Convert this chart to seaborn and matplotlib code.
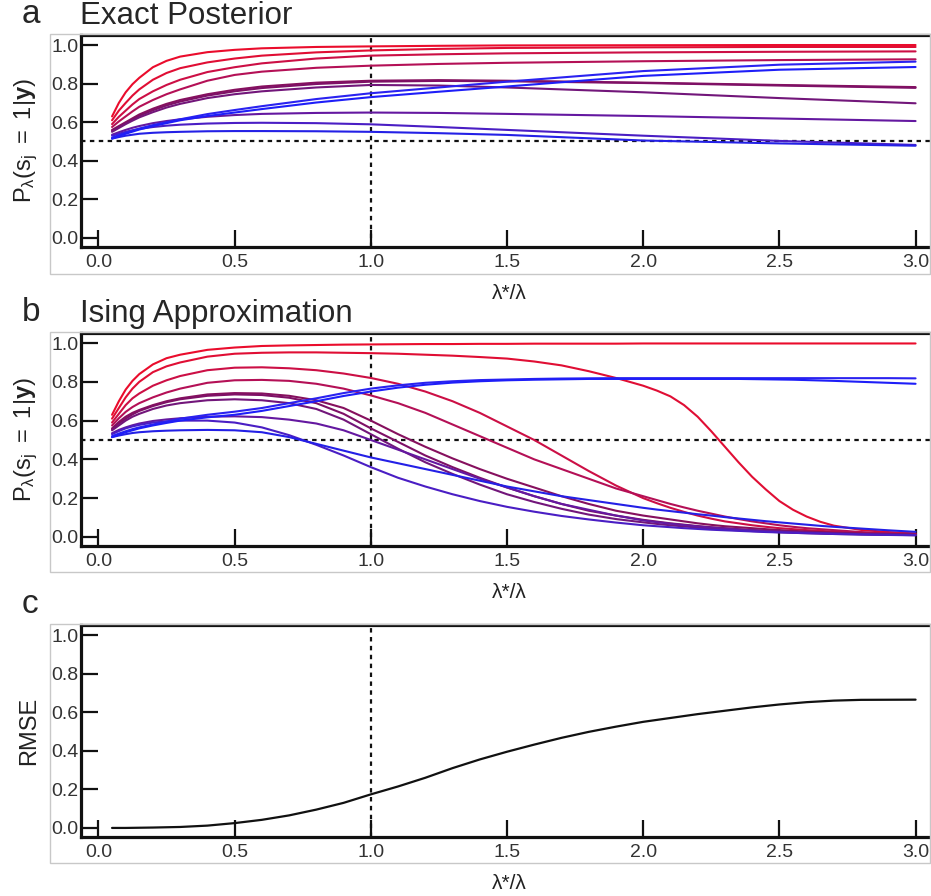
import numpy as np
import pandas as pd
import matplotlib
matplotlib.use("Agg")
import matplotlib.pyplot as plt
from matplotlib.patches import Rectangle
from matplotlib.ticker import FormatStrFormatter
import seaborn as sns

# ---------------------------------------------------------------- data
# x axis: lambda*/lambda
x_exact = [0.05, 0.075, 0.1, 0.125, 0.15, 0.2, 0.25, 0.3, 0.4, 0.5, 0.6, 0.8,
           1.0, 1.25, 1.5, 2.0, 2.5, 3.0]
x_ising = [0.05, 0.075, 0.1, 0.125, 0.15, 0.2, 0.25, 0.3, 0.4,
           0.5, 0.6, 0.7, 0.8, 0.9, 1.0, 1.1, 1.2, 1.3, 1.4, 1.5, 1.6, 1.7, 1.8, 1.9,
           2.0, 2.05, 2.1, 2.15, 2.2, 2.25, 2.3, 2.35, 2.4, 2.45, 2.5, 2.55, 2.6, 2.65,
           2.7, 2.8, 2.9, 3.0]
x_rmse = [0.05, 0.1, 0.2, 0.3, 0.4, 0.5, 0.6, 0.7, 0.8, 0.9, 1.0, 1.1, 1.2, 1.3,
          1.4, 1.5, 1.6, 1.7, 1.8, 1.9, 2.0, 2.2, 2.4, 2.5, 2.6, 2.7, 2.8, 3.0]

sites = ["s01", "s02", "s03", "s04", "s05", "s06",
         "s07", "s08", "s09", "s10", "s11", "s12"]

# marginal posterior P(s_j = 1 | y), exact
exact_curves = [
    [0.63, 0.70, 0.755, 0.797, 0.83, 0.885, 0.918, 0.94, 0.963, 0.975, 0.983, 0.99,
     0.993, 0.996, 0.998, 0.999, 1.0, 1.0],
    [0.61, 0.66, 0.70, 0.738, 0.77, 0.82, 0.855, 0.88, 0.91, 0.93, 0.945, 0.962,
     0.972, 0.98, 0.985, 0.988, 0.99, 0.99],
    [0.59, 0.628, 0.66, 0.692, 0.72, 0.76, 0.793, 0.82, 0.86, 0.885, 0.905, 0.93,
     0.945, 0.952, 0.957, 0.962, 0.965, 0.967],
    [0.575, 0.604, 0.63, 0.656, 0.68, 0.715, 0.745, 0.77, 0.815, 0.845, 0.862, 0.882,
     0.893, 0.902, 0.908, 0.916, 0.922, 0.926],
    [0.56, 0.58, 0.60, 0.62, 0.64, 0.67, 0.695, 0.715, 0.745, 0.768, 0.785, 0.805,
     0.815, 0.818, 0.815, 0.805, 0.793, 0.782],
    [0.555, 0.575, 0.595, 0.614, 0.633, 0.662, 0.687, 0.707, 0.738, 0.76, 0.777, 0.798,
     0.81, 0.814, 0.812, 0.803, 0.79, 0.778],
    [0.55, 0.57, 0.59, 0.608, 0.625, 0.652, 0.676, 0.695, 0.725, 0.745, 0.76, 0.78,
     0.793, 0.79, 0.78, 0.755, 0.725, 0.698],
    [0.535, 0.548, 0.56, 0.571, 0.58, 0.595, 0.606, 0.615, 0.628, 0.637, 0.643, 0.648,
     0.65, 0.648, 0.643, 0.632, 0.619, 0.606],
    [0.53, 0.54, 0.55, 0.558, 0.565, 0.575, 0.582, 0.587, 0.593, 0.596, 0.597, 0.595,
     0.589, 0.575, 0.56, 0.53, 0.503, 0.482],
    [0.515, 0.523, 0.53, 0.535, 0.54, 0.545, 0.548, 0.55, 0.553, 0.554, 0.554, 0.553,
     0.55, 0.543, 0.534, 0.505, 0.49, 0.478],
    [0.52, 0.533, 0.545, 0.556, 0.567, 0.585, 0.60, 0.615, 0.642, 0.663, 0.683, 0.72,
     0.75, 0.78, 0.81, 0.865, 0.898, 0.914],
    [0.515, 0.528, 0.54, 0.551, 0.562, 0.58, 0.595, 0.61, 0.632, 0.65, 0.668, 0.702,
     0.73, 0.758, 0.785, 0.84, 0.872, 0.886],
]

# marginal posterior P(s_j = 1 | y), Ising approximation
ising_curves = [
    [0.63, 0.70, 0.76, 0.805, 0.84, 0.89, 0.922, 0.94, 0.965,
     0.977, 0.985, 0.988, 0.99, 0.992, 0.993, 0.994, 0.995, 0.995, 0.996, 0.996, 0.997,
     0.997, 0.997, 0.997,
     0.998, 0.998, 0.998, 0.998, 0.998, 0.998, 0.998, 0.998, 0.998, 0.998, 0.998, 0.998,
     0.998, 0.998, 0.998, 0.998, 0.998, 0.998],
    [0.61, 0.665, 0.72, 0.765, 0.80, 0.85, 0.88, 0.90, 0.93,
     0.945, 0.95, 0.952, 0.952, 0.95, 0.948, 0.945, 0.94, 0.935, 0.928, 0.92, 0.905,
     0.885, 0.855, 0.82,
     0.78, 0.755, 0.725, 0.68, 0.62, 0.545, 0.465, 0.385, 0.31, 0.245, 0.185, 0.14,
     0.105, 0.078, 0.058, 0.036, 0.025, 0.018],
    [0.59, 0.635, 0.68, 0.715, 0.74, 0.78, 0.808, 0.83, 0.86,
     0.873, 0.875, 0.87, 0.86, 0.843, 0.82, 0.79, 0.75, 0.70, 0.64, 0.57, 0.50,
     0.42, 0.34, 0.265,
     0.20, 0.174, 0.15, 0.129, 0.11, 0.094, 0.08, 0.07, 0.06, 0.052, 0.045, 0.04,
     0.035, 0.031, 0.027, 0.02, 0.016, 0.012],
    [0.575, 0.612, 0.645, 0.67, 0.69, 0.72, 0.745, 0.765, 0.795,
     0.808, 0.81, 0.805, 0.79, 0.765, 0.73, 0.69, 0.64, 0.58, 0.52, 0.46, 0.40,
     0.35, 0.30, 0.25,
     0.21, 0.19, 0.17, 0.152, 0.135, 0.12, 0.105, 0.092, 0.08, 0.07, 0.06, 0.052,
     0.045, 0.04, 0.035, 0.025, 0.019, 0.015],
    [0.56, 0.593, 0.62, 0.64, 0.655, 0.68, 0.70, 0.715, 0.735,
     0.742, 0.74, 0.728, 0.705, 0.665, 0.60, 0.53, 0.465, 0.405, 0.35, 0.30, 0.255,
     0.21, 0.17, 0.135,
     0.11, 0.10, 0.09, 0.08, 0.07, 0.062, 0.055, 0.05, 0.045, 0.04, 0.035, 0.031,
     0.028, 0.025, 0.022, 0.018, 0.015, 0.012],
    [0.555, 0.585, 0.61, 0.632, 0.65, 0.675, 0.695, 0.71, 0.728,
     0.735, 0.732, 0.718, 0.69, 0.635, 0.56, 0.49, 0.42, 0.36, 0.305, 0.255, 0.21,
     0.17, 0.135, 0.11,
     0.088, 0.079, 0.07, 0.063, 0.056, 0.05, 0.045, 0.04, 0.036, 0.032, 0.029, 0.026,
     0.023, 0.02, 0.018, 0.015, 0.012, 0.01],
    [0.55, 0.575, 0.60, 0.62, 0.635, 0.66, 0.678, 0.69, 0.705,
     0.71, 0.705, 0.69, 0.66, 0.605, 0.53, 0.455, 0.385, 0.325, 0.27, 0.22, 0.18,
     0.145, 0.115, 0.092,
     0.075, 0.067, 0.06, 0.054, 0.048, 0.043, 0.038, 0.034, 0.03, 0.027, 0.024, 0.021,
     0.019, 0.017, 0.015, 0.013, 0.011, 0.009],
    [0.535, 0.552, 0.565, 0.576, 0.585, 0.598, 0.606, 0.612, 0.62,
     0.622, 0.618, 0.605, 0.585, 0.55, 0.50, 0.45, 0.40, 0.35, 0.30, 0.255, 0.21,
     0.17, 0.14, 0.11,
     0.085, 0.076, 0.068, 0.061, 0.054, 0.048, 0.043, 0.038, 0.034, 0.03, 0.027, 0.024,
     0.022, 0.02, 0.018, 0.014, 0.012, 0.01],
    [0.53, 0.546, 0.56, 0.57, 0.578, 0.59, 0.596, 0.60, 0.60,
     0.59, 0.565, 0.525, 0.475, 0.42, 0.36, 0.305, 0.26, 0.22, 0.185, 0.155, 0.13,
     0.108, 0.09, 0.074,
     0.06, 0.055, 0.05, 0.045, 0.041, 0.037, 0.034, 0.031, 0.028, 0.025, 0.023, 0.021,
     0.019, 0.017, 0.015, 0.012, 0.01, 0.008],
    [0.515, 0.523, 0.53, 0.536, 0.54, 0.545, 0.548, 0.55, 0.552,
     0.55, 0.54, 0.515, 0.48, 0.445, 0.41, 0.38, 0.35, 0.32, 0.29, 0.26, 0.235,
     0.21, 0.19, 0.17,
     0.15, 0.141, 0.133, 0.125, 0.117, 0.11, 0.102, 0.095, 0.088, 0.081, 0.075, 0.069,
     0.063, 0.057, 0.052, 0.043, 0.034, 0.026],
    [0.52, 0.533, 0.545, 0.556, 0.565, 0.58, 0.595, 0.61, 0.63,
     0.646, 0.665, 0.69, 0.715, 0.742, 0.765, 0.782, 0.795, 0.803, 0.809, 0.812, 0.815,
     0.817, 0.818, 0.819,
     0.819, 0.819, 0.819, 0.819, 0.819, 0.819, 0.819, 0.819, 0.819, 0.819, 0.819, 0.819,
     0.819, 0.819, 0.819, 0.819, 0.819, 0.818],
    [0.515, 0.528, 0.54, 0.55, 0.56, 0.575, 0.588, 0.60, 0.617,
     0.63, 0.65, 0.675, 0.70, 0.727, 0.75, 0.77, 0.785, 0.796, 0.803, 0.808, 0.811,
     0.813, 0.815, 0.815,
     0.815, 0.815, 0.815, 0.815, 0.815, 0.815, 0.815, 0.815, 0.814, 0.813, 0.812, 0.811,
     0.809, 0.807, 0.805, 0.80, 0.795, 0.79],
]

# root-mean-square error between the two posteriors
rmse = [0.0, 0.0, 0.002, 0.005, 0.012, 0.025, 0.042, 0.065, 0.095, 0.13, 0.174, 0.215, 0.26,
        0.31, 0.355, 0.395, 0.432, 0.467, 0.498, 0.525, 0.55, 0.59, 0.625, 0.64, 0.652,
        0.66, 0.664, 0.665]

x_ticks = [0.0, 0.5, 1.0, 1.5, 2.0, 2.5, 3.0]
y_ticks = [0.0, 0.2, 0.4, 0.6, 0.8, 1.0]

# ---------------------------------------------------------------- style
site_colors = ["#ea0c2c", "#e00e34", "#cc0f45", "#b41056", "#86105e", "#7e1066",
               "#72167a", "#6418a0", "#4a1ec4", "#2420e6", "#2a22f0", "#1e1ef8"]
palette = dict(zip(sites, site_colors))

sns.set_theme(style="white")
plt.rcParams["font.family"] = ["Liberation Sans", "DejaVu Sans"]
plt.rcParams["mathtext.fontset"] = "custom"
plt.rcParams["mathtext.rm"] = "Liberation Sans"
plt.rcParams["mathtext.it"] = "Liberation Sans"
plt.rcParams["mathtext.bf"] = "Liberation Sans:bold"
plt.rcParams["mathtext.default"] = "regular"


def long_table(xs, curves):
    rows = []
    for name, vals in zip(sites, curves):
        assert len(vals) == len(xs), name
        for xv, yv in zip(xs, vals):
            rows.append((name, xv, yv))
    return pd.DataFrame(rows, columns=["site", "ratio", "p"])


df_exact = long_table(x_exact, exact_curves)
df_ising = long_table(x_ising, ising_curves)
df_rmse = pd.DataFrame({"ratio": x_rmse, "rmse": rmse})

W, H = 931, 896
fig = plt.figure(figsize=(W / 100, H / 100), dpi=100)
fig.patch.set_facecolor("white")


def fx(px):
    return px / W


def fy(py):
    return 1 - py / H


# panel frames (axes rectangle + tick labels), in pixel rows
panels = [
    dict(top=35, bottom=247, box=(34, 274), letter="a", title="Exact Posterior", base=23),
    dict(top=333, bottom=546, box=(332, 572), letter="b", title="Ising Approximation", base=321),
    dict(top=625, bottom=837, box=(624, 863), letter="c", title=None, base=613),
]

axes = []
for p in panels:
    b0, b1 = p["box"]
    fig.patches.append(Rectangle((fx(50), fy(b1)), fx(880), (b1 - b0) / H,
                                 transform=fig.transFigure, fill=False,
                                 edgecolor="#c8c8c8", linewidth=1.0, zorder=0))
    ax = fig.add_axes([fx(81), fy(p["bottom"]), fx(930 - 81), (p["bottom"] - p["top"]) / H])
    ax.set_facecolor("none")
    axes.append(ax)
    fig.text(fx(22), fy(p["base"]), p["letter"], fontsize=24, va="baseline", ha="left")
    if p["title"]:
        fig.text(fx(80), fy(p["base"] + 1), p["title"], fontsize=22.5, va="baseline", ha="left")

ax_a, ax_b, ax_c = axes

sns.lineplot(data=df_exact, x="ratio", y="p", hue="site", hue_order=sites,
             palette=palette, legend=False, estimator=None, sort=False,
             linewidth=1.5, ax=ax_a)
sns.lineplot(data=df_ising, x="ratio", y="p", hue="site", hue_order=sites,
             palette=palette, legend=False, estimator=None, sort=False,
             linewidth=1.5, ax=ax_b)
sns.lineplot(data=df_rmse, x="ratio", y="rmse", color="#111111",
             estimator=None, sort=False, linewidth=1.6, ax=ax_c)

dots = (0, (2.0, 2.0))
for ax in (ax_a, ax_b):
    ax.axhline(0.5, color="#111111", linewidth=1.6, linestyle=dots, zorder=1)
for ax in axes:
    ax.axvline(1.0, color="#111111", linewidth=1.6, linestyle=dots, zorder=1)

ylabels = [r"$P_{\lambda}(s_{j}\ =\ 1|\mathbf{y})$",
           r"$P_{\lambda}(s_{j}\ =\ 1|\mathbf{y})$",
           "RMSE"]

for ax, yl in zip(axes, ylabels):
    ax.set_xlim(-0.064, 3.053)
    ax.set_ylim(-0.047, 1.052)
    ax.set_xticks(x_ticks)
    ax.set_yticks(y_ticks)
    ax.xaxis.set_major_formatter(FormatStrFormatter("%.1f"))
    ax.yaxis.set_major_formatter(FormatStrFormatter("%.1f"))
    for side in ("left", "top", "bottom"):
        ax.spines[side].set_visible(True)
        ax.spines[side].set_color("#111111")
        ax.spines[side].set_linewidth(2.3)
    ax.spines["right"].set_visible(False)
    ax.tick_params(axis="both", which="major", direction="in", length=12, width=1.6,
                   color="#111111", labelsize=14, labelcolor="#333333",
                   bottom=True, left=True, top=False, right=False)
    ax.tick_params(axis="y", pad=2)
    ax.tick_params(axis="x", pad=5)
    ax.set_xlabel("λ*/λ", fontsize=15, color="#222222")
    ax.xaxis.set_label_coords(0.504, -0.175)
    ax.set_ylabel(yl, fontsize=17, color="#222222")
    ax.yaxis.set_label_coords(-0.048, 0.5)

fig.savefig("out.png", dpi=100, facecolor="white")
